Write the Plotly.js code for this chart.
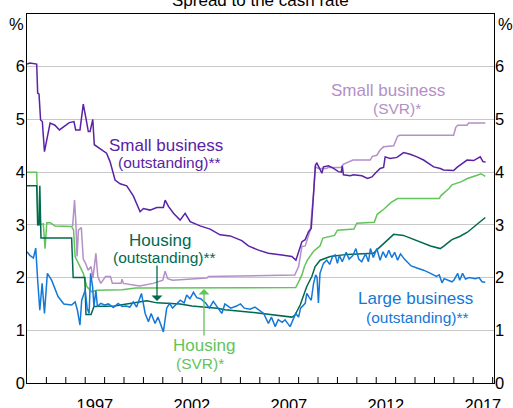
<!DOCTYPE html>
<html><head><meta charset="utf-8">
<script src="https://cdn.plot.ly/plotly-3.0.1.min.js"></script>
<style>html,body{margin:0;padding:0;background:#fff}#chart{width:513px;height:408px}</style>
</head><body><div id="chart"></div>
<script>
// ---- data (decimal years, % spread to cash rate) ----
const sbOutDates = [1994.0,1994.15,1994.5,1994.55,1994.62,1994.7,1994.79,1994.9,1995.19,1995.44,1995.67,1995.96,1996.18,1996.42,1996.51,1996.73,1996.9,1997.04,1997.16,1997.25,1997.39,1997.47,1997.76,1998.1,1998.28,1998.54,1998.8,1999.14,1999.48,1999.83,2000.0,2000.34,2000.69,2001.03,2001.12,2001.29,2001.55,2001.89,2002.15,2002.41,2002.92,2003.44,2003.95,2004.47,2005.07,2005.41,2005.93,2006.44,2007.13,2007.65,2007.86,2008.0,2008.17,2008.34,2008.51,2008.65,2008.77,2008.87,2008.94,2009.11,2009.2,2009.28,2009.54,2009.8,2010.05,2010.2,2010.25,2010.31,2010.66,2010.83,2011.26,2011.55,2011.78,2011.95,2012.2,2012.38,2012.46,2012.72,2013.07,2013.41,2013.75,2014.1,2014.44,2014.96,2015.3,2015.47,2015.99,2016.16,2016.33,2016.68,2017.02,2017.36,2017.5,2017.64];
const sbOutValues = [6.05,6.07,6.05,5.5,5.48,4.99,4.96,4.39,4.93,4.89,4.8,4.89,4.94,4.96,4.8,4.8,5.29,5.02,4.77,4.77,5.0,4.52,4.45,4.36,4.2,3.85,3.78,3.74,3.55,3.25,3.31,3.28,3.33,3.33,3.47,3.35,3.22,3.09,3.22,3.06,2.98,2.92,2.81,2.79,2.7,2.6,2.52,2.46,2.43,2.40,2.33,2.5,2.68,2.72,2.87,2.93,3.6,4.14,4.17,4.04,3.98,4.1,4.12,4.07,4.01,4.0,4.12,3.95,3.93,3.95,3.93,3.88,3.91,3.98,4.07,4.09,4.29,4.26,4.28,4.37,4.34,4.29,4.23,4.1,4.07,4.04,4.03,4.09,4.14,4.23,4.22,4.29,4.2,4.19];

const sbSvrDates = [1996.35,1996.45,1996.52,1996.58,1996.65,1996.8,1996.9,1997.02,1997.15,1997.3,1997.4,1997.55,1997.65,1997.8,1998.05,1998.3,1998.4,1998.85,1998.9,1998.97,1999.8,2000.5,2001.0,2001.12,2001.25,2001.5,2003.27,2003.35,2007.8,2008.0,2008.17,2008.34,2008.6,2008.77,2008.85,2009.02,2009.45,2009.5,2010.2,2010.3,2010.8,2011.69,2011.8,2012.03,2012.2,2012.38,2012.9,2013.0,2013.1,2013.2,2015.99,2016.1,2016.2,2016.68,2016.76,2017.62];
const sbSvrValues = [2.97,3.47,3.03,2.4,2.9,2.95,2.35,2.27,2.14,2.21,1.99,2.46,2.02,1.89,2.02,2.02,1.89,1.89,1.97,1.89,1.84,1.89,1.95,2.12,1.98,1.95,1.99,2.02,2.05,2.21,2.59,2.6,2.9,3.6,4.1,4.07,4.07,4.09,4.09,4.15,4.23,4.23,4.3,4.32,4.42,4.48,4.5,4.6,4.68,4.7,4.7,4.85,4.89,4.89,4.93,4.93];

const hSvrDates = [1994.0,1994.5,1994.58,1994.84,1994.93,1995.02,1995.2,1995.44,1996.3,1996.4,1996.48,1996.65,1996.9,1997.08,1997.34,1997.6,1998.9,1999.6,2000.0,2007.85,2008.0,2008.17,2008.3,2008.45,2008.77,2009.1,2009.25,2009.85,2010.0,2010.85,2011.0,2011.9,2012.05,2012.4,2012.75,2013.1,2015.25,2015.35,2015.75,2015.9,2016.4,2016.7,2017.2,2017.4,2017.62];
const hSvrValues = [4.0,4.0,3.0,3.02,2.55,3.04,3.04,2.98,2.97,2.9,2.4,2.27,2.08,1.83,1.73,1.76,1.77,1.8,1.8,1.81,1.92,2.05,2.21,2.33,2.5,2.6,2.75,2.8,2.9,2.92,3.03,3.05,3.2,3.3,3.42,3.5,3.5,3.56,3.69,3.76,3.82,3.88,3.94,3.97,3.92];

const hOutDates = [1994.0,1994.5,1994.55,1994.62,1994.66,1994.72,1996.3,1996.38,1996.98,1997.04,1997.3,1997.45,1998.5,1999.5,2000.17,2000.7,2001.9,2002.5,2003.8,2004.2,2005.9,2007.65,2007.8,2008.08,2008.25,2008.42,2008.68,2008.85,2009.11,2009.63,2010.5,2011.0,2011.86,2012.1,2012.4,2012.9,2013.4,2014.1,2014.8,2015.3,2015.5,2015.9,2016.3,2016.7,2017.1,2017.62];
const hOutValues = [3.74,3.74,3.0,3.0,3.74,2.75,2.75,2.0,2.0,1.3,1.3,1.45,1.46,1.52,1.56,1.52,1.5,1.46,1.42,1.39,1.33,1.25,1.28,1.48,1.64,1.83,2.02,2.21,2.33,2.40,2.44,2.45,2.46,2.55,2.65,2.82,2.8,2.7,2.6,2.55,2.6,2.72,2.78,2.86,2.98,3.14];

const lbDates = [1994.0,1994.15,1994.33,1994.45,1994.55,1994.66,1994.78,1994.9,1995.05,1995.27,1995.6,1995.9,1996.3,1996.48,1996.6,1996.73,1996.82,1996.92,1997.0,1997.1,1997.2,1997.28,1997.38,1997.45,1997.55,1997.63,1997.8,1998.0,1998.2,1998.45,1998.7,1998.9,1999.1,1999.3,1999.48,1999.65,1999.9,2000.09,2000.26,2000.4,2000.6,2000.75,2000.9,2001.03,2001.2,2001.35,2001.5,2001.7,2001.9,2002.1,2002.23,2002.4,2002.58,2002.75,2002.95,2003.2,2003.4,2003.6,2003.8,2004.04,2004.2,2004.5,2004.8,2005.0,2005.2,2005.5,2005.75,2006.0,2006.2,2006.44,2006.6,2006.79,2006.95,2007.15,2007.3,2007.56,2007.7,2007.85,2008.0,2008.1,2008.34,2008.42,2008.55,2008.65,2008.77,2008.88,2008.95,2009.02,2009.1,2009.28,2009.45,2009.6,2009.75,2009.88,2010.0,2010.1,2010.25,2010.45,2010.6,2010.8,2010.95,2011.1,2011.25,2011.45,2011.6,2011.7,2011.85,2012.03,2012.2,2012.35,2012.5,2012.65,2012.8,2012.95,2013.1,2013.25,2013.45,2013.6,2013.8,2014.1,2014.44,2014.8,2015.1,2015.25,2015.39,2015.5,2015.7,2015.9,2016.0,2016.2,2016.3,2016.45,2016.6,2016.8,2017.1,2017.3,2017.45,2017.62];
const lbValues = [2.49,2.42,2.37,2.56,1.95,1.38,1.89,1.32,2.08,1.95,1.64,1.5,1.48,1.54,1.38,1.10,1.57,1.67,1.76,1.42,1.32,2.08,1.83,1.45,1.76,1.45,1.51,1.48,1.5,1.43,1.51,1.45,1.46,1.44,1.54,1.44,1.7,1.32,1.16,1.32,1.13,1.25,1.1,0.97,1.42,1.51,1.42,1.5,1.57,1.52,1.67,1.6,1.72,1.62,1.6,1.52,1.42,1.55,1.45,1.32,1.5,1.42,1.46,1.5,1.42,1.4,1.44,1.38,1.32,1.13,1.25,1.07,1.2,1.15,1.2,1.07,1.2,1.32,1.25,1.42,1.51,1.7,1.62,1.57,1.89,2.05,2.0,1.52,2.08,2.27,2.33,2.25,2.4,2.43,2.27,2.42,2.3,2.48,2.35,2.42,2.55,2.35,2.3,2.45,2.3,2.55,2.38,2.55,2.33,2.49,2.38,2.52,2.38,2.48,2.33,2.45,2.35,2.3,2.22,2.18,2.14,2.08,2.02,2.05,1.9,1.98,1.95,1.92,1.95,2.08,1.95,2.08,1.97,2.0,1.98,2.0,1.92,1.91];

const yTickValues = [0,1,2,3,4,5,6];
const xLabelYears = ['1997','2002','2007','2012','2017'];
const titleText = 'Spread to the cash rate';

// ---- styling ----
const C = {
  sbOut: '#5a22a6', sbSvr: '#b48fc8', hSvr: '#62c45a', hOut: '#00694f', lb: '#1478d8'
};
const FONT = 'Liberation Sans, Arial, sans-serif';
const X0 = 1994.0, X1 = 2018.07;
// plot-area pixel geometry (for annotation placement)
const L = 27, R = 494, T = 14, B = 383;
const px = x => (x - L) / (R - L);
const py = y => (B - y) / (B - T);

function line(x, y, color) {
  return {x, y, type: 'scatter', mode: 'lines', line: {color, width: 1.5}, hoverinfo: 'skip'};
}
const traces = [
  line(sbSvrDates, sbSvrValues, C.sbSvr),
  line(hSvrDates, hSvrValues, C.hSvr),
  line(sbOutDates, sbOutValues, C.sbOut),
  line(hOutDates, hOutValues, C.hOut),
  line(lbDates, lbValues, C.lb),
  {x: [], y: [], xaxis: 'x', yaxis: 'y2', type: 'scatter', mode: 'lines', showlegend: false},
  {x: [], y: [], xaxis: 'x', yaxis: 'y3', type: 'scatter', mode: 'lines', showlegend: false}
];

// year-boundary tick marks (inside, bottom axis)
const TICK_PX = 6;
const shapes = [];
for (let yr = Math.ceil(X0) + 1; yr < X1; yr++) {
  shapes.push({type: 'line', xref: 'x', yref: 'paper', x0: yr, x1: yr, y0: 0, y1: TICK_PX / (B - T),
               line: {color: '#000', width: 1}, layer: 'above'});
}
const labelPos = xLabelYears.map(s => Number(s) + 0.5);

function txt(text, x, y, color, size) {
  return {text, xref: 'paper', yref: 'paper', x: px(x), y: py(y), xanchor: 'center', yanchor: 'middle',
          showarrow: false, font: {family: FONT, size, color}};
}
function arrow(x, yTip, dy, color) {
  return {text: '', xref: 'paper', yref: 'paper', x: px(x), y: py(yTip), ax: 0, ay: dy,
          showarrow: true, arrowhead: 1, arrowsize: 1.4, arrowwidth: 1.3, arrowcolor: color};
}

const annotations = [
  {text: titleText, xref: 'paper', yref: 'paper', x: 0.5, y: 1, xanchor: 'center', yanchor: 'bottom', yshift: 2,
   showarrow: false, font: {family: FONT, size: 17, color: '#000'}},
  txt('%', 16, 24, '#000', 16.5),
  txt('%', 505, 24, '#000', 16.5),
  txt('Small business', 166, 145, C.sbOut, 17),
  txt('(outstanding)**', 169, 162, C.sbOut, 15.5),
  txt('Small business', 388, 90, C.sbSvr, 17),
  txt('(SVR)*', 397, 108, C.sbSvr, 15.5),
  txt('Housing', 160, 240, C.hOut, 17),
  txt('(outstanding)**', 164, 257, C.hOut, 15.5),
  txt('Housing', 204, 345, C.hSvr, 17),
  txt('(SVR)*', 200, 363, C.hSvr, 15.5),
  txt('Large business', 415, 298, C.lb, 17),
  txt('(outstanding)**', 417, 317, C.lb, 15.5),
  arrow(157, 301, -37, C.hOut),
  arrow(204, 289, 48, C.hSvr)
];

const tickFont = {family: FONT, size: 16.5, color: '#000'};
const layout = {
  width: 513, height: 408,
  margin: {l: L, r: 513 - R, t: T, b: 408 - B, pad: 0},
  paper_bgcolor: '#fff', plot_bgcolor: '#fff',
  showlegend: false,
  font: {family: FONT, size: 16.5, color: '#000'},
  xaxis: {
    range: [X0, X1], showgrid: false, zeroline: false,
    tickmode: 'array', tickvals: labelPos, ticktext: xLabelYears,
    ticks: '', ticklabelstandoff: 7,
    showline: true, linecolor: '#000', linewidth: 1, mirror: true,
    tickfont: tickFont
  },
  yaxis: {
    range: [0, 7], tickmode: 'array', tickvals: yTickValues, ticks: '', showticklabels: false,
    showgrid: true, gridcolor: '#c8c8c8', gridwidth: 1, zeroline: false,
    showline: true, linecolor: '#000', linewidth: 1, mirror: true
  },
  yaxis2: {
    range: [0, 7], overlaying: 'y', side: 'right', anchor: 'x',
    tickmode: 'array', tickvals: yTickValues, ticks: '',
    showgrid: false, zeroline: false, showline: false,
    tickfont: tickFont
  },
  yaxis3: {
    range: [0, 7], overlaying: 'y', side: 'left', anchor: 'free', position: 0,
    tickmode: 'array', tickvals: yTickValues, ticks: '', ticklabelstandoff: 2,
    showgrid: false, zeroline: false, showline: false,
    tickfont: tickFont
  },
  shapes,
  annotations
};

Plotly.newPlot('chart', traces, layout, {staticPlot: true, displayModeBar: false});
</script></body></html>
